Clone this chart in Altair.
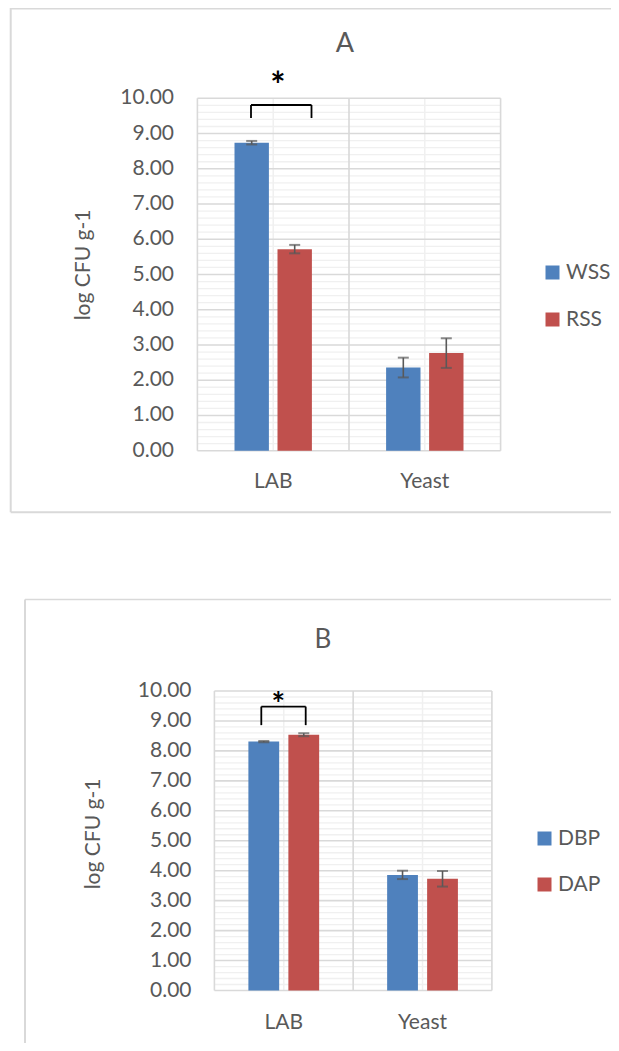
import altair as alt
import pandas as pd

# ---------------- data ----------------
categories = ["LAB", "Yeast"]

series_a = ["WSS", "RSS"]
wss_mean = [8.74, 2.36]
wss_err = [0.05, 0.28]
rss_mean = [5.72, 2.77]
rss_err = [0.12, 0.42]

series_b = ["DBP", "DAP"]
dbp_mean = [8.31, 3.86]
dbp_err = [0.02, 0.14]
dap_mean = [8.54, 3.73]
dap_err = [0.05, 0.26]

y_ticks = [0, 1, 2, 3, 4, 5, 6, 7, 8, 9, 10]
y_title = "log CFU g-1"
panel_titles = ["A", "B"]
sig_mark = "*"

# ---------------- style ----------------
BLUE = "#4F81BD"
RED = "#C0504D"
TXT = "#595959"
MAJOR = "#D9D9D9"
MINOR = "#F0F0F0"
FONT = "Lato"
M = 8
W, H = 603, 1035

minor_ticks = [round(t + k * 0.2, 1) for t in y_ticks[:-1] for k in range(1, 5)]


def panel(title, series, m1, e1, m2, e2, g):
    rows = []
    for s, means, errs in zip(series, [m1, m2], [e1, e2]):
        for c, m, e in zip(categories, means, errs):
            rows.append(dict(cat=c, series=s, mean=m, lo=m - e, hi=m + e))
    df = pd.DataFrame(rows)
    cat_df = pd.DataFrame({"cat": categories})
    one = pd.DataFrame({"a": [0]})

    ys = alt.Scale(domain=[0, 10], range=[g["ybot"] - M, g["ytop"] - M], nice=False)
    xs = alt.Scale(domain=categories, range=[g["x0"] - M, g["x1"] - M],
                   paddingInner=0, paddingOuter=0)
    xos = alt.Scale(domain=series, paddingInner=g["pi"], paddingOuter=g["po"])
    cs = alt.Scale(domain=series, range=[BLUE, RED])

    X = alt.X("cat:N", scale=xs, axis=None)
    XO = alt.XOffset("series:N", scale=xos, sort=series)

    def ydat(v):
        return alt.Y(datum=v, type="quantitative", scale=ys, axis=None)

    layers = []
    layers.append(alt.Chart(pd.DataFrame({"v": minor_ticks})).mark_rule(
        color=MINOR, strokeWidth=1.3).encode(
        y=alt.Y("v:Q", scale=ys, axis=None),
        x=alt.value(g["x0"] - M), x2=alt.value(g["x1"] - M)))
    layers.append(alt.Chart(cat_df).mark_rule(color=MINOR, strokeWidth=1.5).encode(
        x=alt.X("cat:N", scale=xs, axis=None, bandPosition=0.5),
        y=ydat(0), y2=alt.Y2(datum=10)))
    layers.append(alt.Chart(pd.DataFrame({"v": y_ticks})).mark_rule(
        color=MAJOR, strokeWidth=1.6).encode(
        y=alt.Y("v:Q", scale=ys, axis=None),
        x=alt.value(g["x0"] - M), x2=alt.value(g["x1"] - M)))
    layers.append(alt.Chart(cat_df).mark_rule(color=MAJOR, strokeWidth=1.6).encode(
        x=alt.X("cat:N", scale=xs, axis=None, bandPosition=0),
        y=ydat(0), y2=alt.Y2(datum=10)))
    layers.append(alt.Chart(cat_df.iloc[[-1]]).mark_rule(color=MAJOR, strokeWidth=1.6).encode(
        x=alt.X("cat:N", scale=xs, axis=None, bandPosition=1),
        y=ydat(0), y2=alt.Y2(datum=10)))

    layers.append(alt.Chart(df).mark_bar().encode(
        x=X, xOffset=XO,
        y=alt.Y("mean:Q", scale=ys, axis=None),
        color=alt.Color("series:N", scale=cs, sort=series, legend=alt.Legend(
            orient="none", legendX=g["lx"] - M, legendY=g["ly"] - M, title=None,
            symbolType="square", symbolSize=196, symbolStrokeWidth=0,
            symbolOpacity=1, labelFont=FONT, labelFontSize=21, labelColor=TXT,
            labelOffset=3, rowPadding=g["rowpad"], padding=0, direction="vertical"))))
    layers.append(alt.Chart(df).mark_rule(color=TXT, strokeWidth=1.6).encode(
        x=X, xOffset=XO, y=alt.Y("lo:Q", scale=ys, axis=None), y2="hi:Q"))
    for f in ["lo", "hi"]:
        layers.append(alt.Chart(df).mark_tick(color=TXT, thickness=2, size=11).encode(
            x=X, xOffset=XO, y=alt.Y(f + ":Q", scale=ys, axis=None)))

    layers.append(alt.Chart(pd.DataFrame({"v": y_ticks})).mark_text(
        align="right", baseline="middle", font=FONT, fontSize=21, color=TXT).encode(
        y=alt.Y("v:Q", scale=ys, axis=None), x=alt.value(g["lab_r"] - M),
        text=alt.Text("v:Q", format=".2f")))
    layers.append(alt.Chart(cat_df).mark_text(
        baseline="middle", font=FONT, fontSize=21, color=TXT).encode(
        x=X, y=alt.value(g["xlab_y"] - M), text="cat:N"))
    layers.append(alt.Chart(pd.DataFrame({"t": [y_title]})).mark_text(
        angle=270, baseline="middle", align="center", font=FONT, fontSize=21,
        color=TXT).encode(x=alt.value(g["yt_x"] - M), y=alt.value(g["yt_y"] - M),
                          text="t:N"))
    layers.append(alt.Chart(pd.DataFrame({"t": [title]})).mark_text(
        baseline="middle", align="center", font=FONT, fontSize=g["tfs"],
        color=TXT).encode(x=alt.value(g["t_x"] - M), y=alt.value(g["t_y"] - M),
                          text="t:N"))

    xa, xb, vt, vb = g["bracket"]
    layers.append(alt.Chart(one).mark_rule(color="black", strokeWidth=1.8).encode(
        x=alt.value(xa - M), x2=alt.value(xb - M), y=ydat(vt)))
    for xx in (xa, xb):
        layers.append(alt.Chart(one).mark_rule(color="black", strokeWidth=1.8).encode(
            x=alt.value(xx - M), y=ydat(vt), y2=alt.Y2(datum=vb)))
    sx, sv = g["star"]
    layers.append(alt.Chart(pd.DataFrame({"t": [sig_mark]})).mark_text(
        baseline="middle", align="center", font=FONT, fontSize=g["sfs"],
        fontWeight="bold", color="black", dy=g["star_dy"]).encode(
        x=alt.value(sx - M), y=ydat(sv), text="t:N"))
    return alt.layer(*layers)


geo_a = dict(x0=197.4, x1=500.6, ybot=450.7, ytop=98.3, pi=0.2, po=0.863,
             lab_r=174, xlab_y=482, yt_x=84, yt_y=265, t_x=345, t_y=44, tfs=27,
             lx=542, ly=262, rowpad=25,
             bracket=(251, 311.5, 9.81, 9.44), star=(278, 10.63), sfs=36, star_dy=10.5)
geo_b = dict(x0=214.4, x1=491.9, ybot=990.5, ytop=691, pi=0.23, po=0.85,
             lab_r=191.5, xlab_y=1023, yt_x=94, yt_y=834, t_x=323, t_y=640, tfs=26,
             lx=534, ly=828, rowpad=24,
             bracket=(261.3, 305.7, 9.48, 8.86), star=(278.3, 9.77), sfs=32, star_dy=8.5)

pa = panel(panel_titles[0], series_a, wss_mean, wss_err, rss_mean, rss_err, geo_a)
pb = panel(panel_titles[1], series_b, dbp_mean, dbp_err, dap_mean, dap_err, geo_b)

one = pd.DataFrame({"a": [0]})
BC = "#D9D9D9"
borders = [
    alt.Chart(one).mark_rule(color=BC, strokeWidth=2).encode(
        x=alt.value(10.7 - M), y=alt.value(0), y2=alt.value(512.3 - M)),
    alt.Chart(one).mark_rule(color=BC, strokeWidth=2).encode(
        x=alt.value(10.7 - M), x2=alt.value(W), y=alt.value(0.5)),
    alt.Chart(one).mark_rule(color=BC, strokeWidth=2).encode(
        x=alt.value(10.7 - M), x2=alt.value(W), y=alt.value(512.3 - M)),
    alt.Chart(one).mark_rule(color=BC, strokeWidth=2).encode(
        x=alt.value(25 - M), y=alt.value(599.5 - M), y2=alt.value(H)),
    alt.Chart(one).mark_rule(color=BC, strokeWidth=1.5).encode(
        x=alt.value(25 - M), x2=alt.value(W), y=alt.value(599.5 - M)),
]

chart = alt.layer(*borders, pa, pb).resolve_scale(
    x="independent", y="independent", xOffset="independent", color="independent"
).properties(
    width=W, height=H, padding=0, autosize=alt.AutoSizeParams(type="none")
).configure_view(stroke=None)

chart.save("out.html", embed_options={"renderer": "svg", "actions": False})
